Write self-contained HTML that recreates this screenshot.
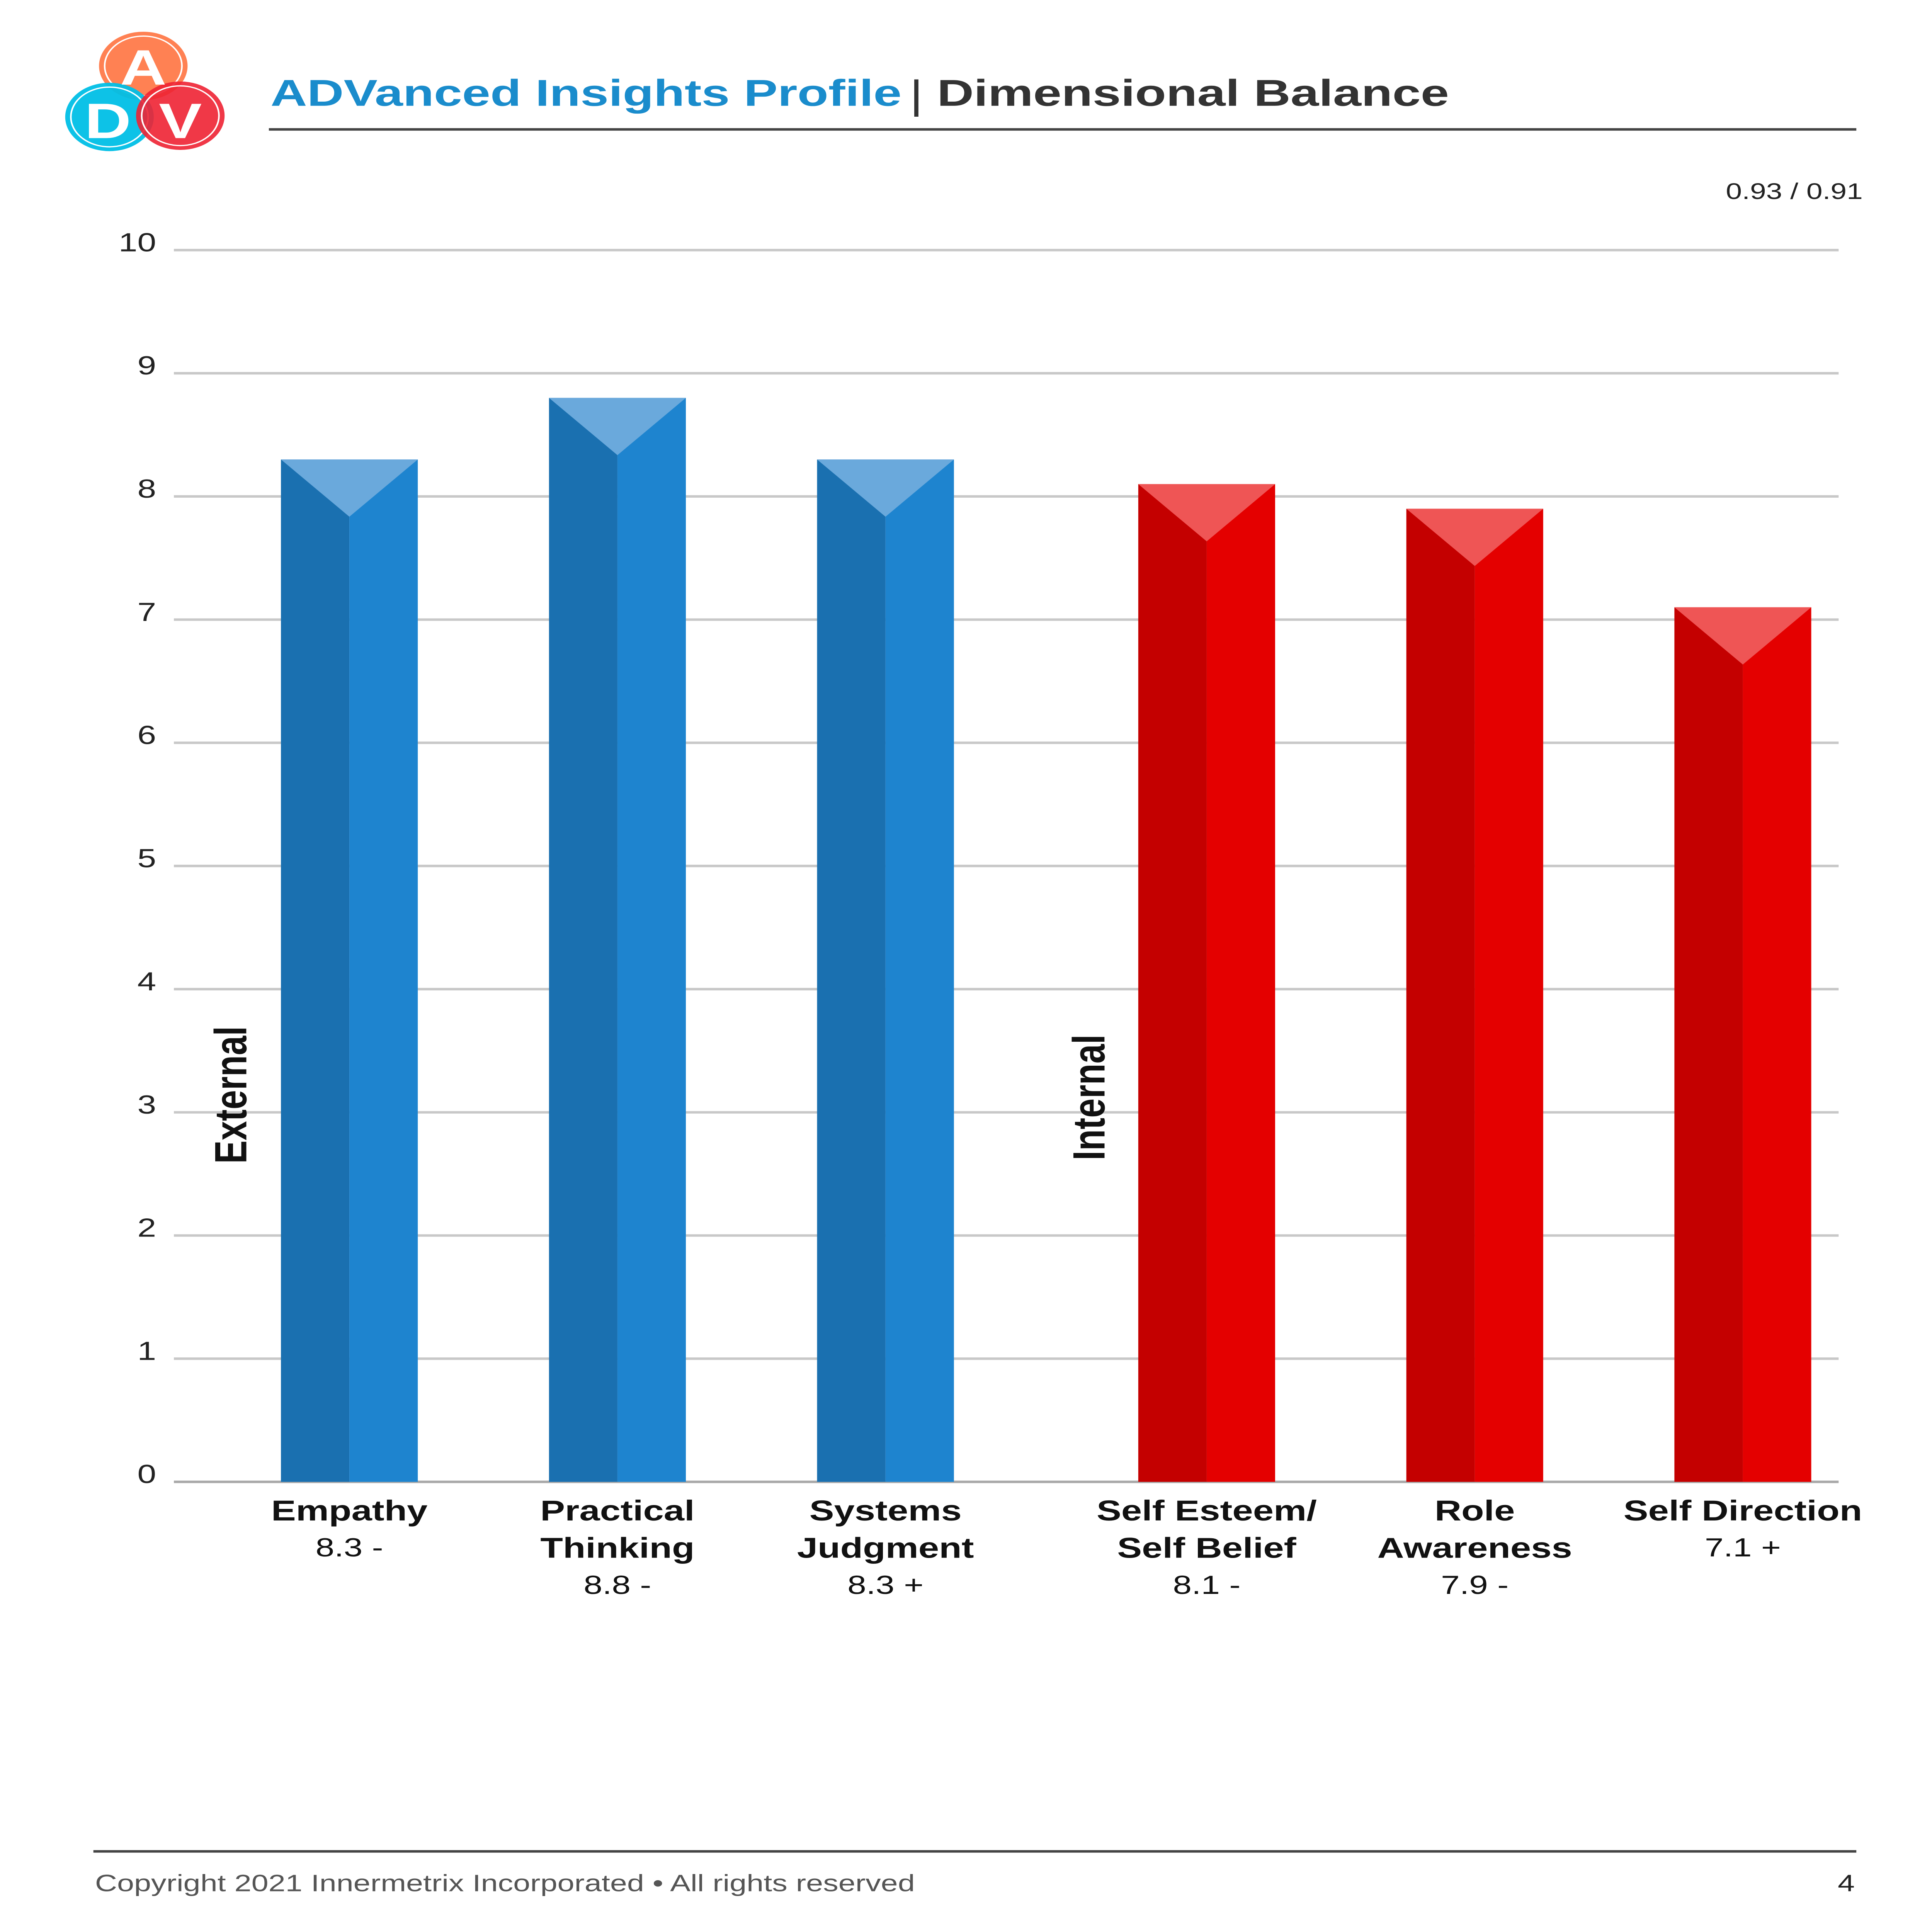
<!DOCTYPE html>
<html><head><meta charset="utf-8"><style>
html,body{margin:0;padding:0;background:#fff;width:100%;height:100%;overflow:hidden;}
svg{display:block;width:100vw;height:100vh;}
text{font-family:"Liberation Sans",sans-serif;}
</style></head><body>
<svg id="chart" viewBox="0 0 1200 1552.8" preserveAspectRatio="none" xmlns="http://www.w3.org/2000/svg">
<g>
 <circle cx="89" cy="53" r="27.5" fill="#ff7a4a" opacity="0.95"/>
 <circle cx="89" cy="53" r="24" fill="none" stroke="#fff" stroke-width="1"/>
 <circle cx="68" cy="94" r="27.5" fill="#00bfe6" opacity="0.95"/>
 <circle cx="68" cy="94" r="24" fill="none" stroke="#fff" stroke-width="1"/>
 <circle cx="112" cy="93" r="27.5" fill="#ee2233" opacity="0.9"/>
 <circle cx="112" cy="93" r="24" fill="none" stroke="#fff" stroke-width="1"/>
 <text x="89" y="68" font-size="40" font-weight="bold" fill="#fff" text-anchor="middle">A</text>
 <text x="67" y="111" font-size="40" font-weight="bold" fill="#fff" text-anchor="middle">D</text>
 <text x="112" y="111" font-size="40" font-weight="bold" fill="#fff" text-anchor="middle">V</text>
</g>
<text x="168" y="85" font-size="30" font-weight="bold" fill="#1a8ccc" textLength="392" lengthAdjust="spacingAndGlyphs">ADVanced Insights Profile</text>
<text x="565" y="87" font-size="32" fill="#333">|</text>
<text x="582" y="85" font-size="30" font-weight="bold" fill="#333" textLength="318" lengthAdjust="spacingAndGlyphs">Dimensional Balance</text>
<line x1="167" y1="104" x2="1153" y2="104" stroke="#444" stroke-width="2"/>
<text x="1157" y="160" font-size="18" fill="#222" text-anchor="end">0.93 / 0.91</text>
<g id="grid"></g>
<g id="bars"></g>
<g id="labels"></g>
<text transform="translate(153,880) rotate(-90)" font-size="28" font-weight="bold" fill="#111" text-anchor="middle">External</text>
<text transform="translate(686,882) rotate(-90)" font-size="28" font-weight="bold" fill="#111" text-anchor="middle">Internal</text>
<line x1="58" y1="1488" x2="1153" y2="1488" stroke="#444" stroke-width="2"/>
<text x="59" y="1520" font-size="19" fill="#555">Copyright 2021 Innermetrix Incorporated • All rights reserved</text>
<text x="1152" y="1520" font-size="19" fill="#222" text-anchor="end">4</text>
</svg>
<script>
const categories = [["Empathy"],["Practical","Thinking"],["Systems","Judgment"],["Self Esteem/","Self Belief"],["Role","Awareness"],["Self Direction"]];
const values = [8.3, 8.8, 8.3, 8.1, 7.9, 7.1];
const trends = ["-", "-", "+", "-", "-", "+"];
const groups = ["external","external","external","internal","internal","internal"];
const ticks = [0,1,2,3,4,5,6,7,8,9,10];
const centers = [217, 383.5, 550, 749.5, 916, 1082.5];

const NS = "http://www.w3.org/2000/svg";
const y = v => 1191 - v * 99;
const barW = 85;
const colors = {external:["#1a70b0","#1e84cf","#6aa9dc"], internal:["#c40000","#e40000","#ef5555"]};
function mk(tag, attrs, parent){const e=document.createElementNS(NS,tag);for(const k in attrs)e.setAttribute(k,attrs[k]);parent.appendChild(e);return e;}
const grid=document.getElementById('grid'), bars=document.getElementById('bars'), labels=document.getElementById('labels');
ticks.forEach(t=>{
  const l=mk('line',{x1:108,x2:1142,y1:y(t),y2:y(t),stroke:t===0?'#aaa':'#c8c8c8','stroke-width':2},grid);
  
  
  const tx=mk('text',{x:97,y:y(t)+1,'font-size':21,fill:'#222','text-anchor':'end'},grid);
  tx.textContent=t;
  
  
});
values.forEach((v,i)=>{
  const c=centers[i], col=colors[groups[i]], top=y(v), bot=y(0);
  const g=mk('g',{},bars);
  
  
  mk('rect',{x:c-barW/2,y:top,width:barW/2,height:bot-top,fill:col[0]},g);
  mk('rect',{x:c,y:top,width:barW/2,height:bot-top,fill:col[1]},g);
  mk('polygon',{points:`${c-barW/2},${top} ${c+barW/2},${top} ${c},${top+46}`,fill:col[2]},g);
  const lines=categories[i];
  const lg=mk('g',{},labels);
  
  
  lines.forEach((s,j)=>{
    const t=mk('text',{x:c,y:1222+j*30,'font-size':23,'font-weight':'bold',fill:'#111','text-anchor':'middle'},lg);
    t.textContent=s;
  });
  const vt=mk('text',{x:c,y:1222+lines.length*30-1,'font-size':21,fill:'#111','text-anchor':'middle'},lg);
  vt.textContent=v.toFixed(1)+' '+trends[i];
});
</script>
</body></html>
